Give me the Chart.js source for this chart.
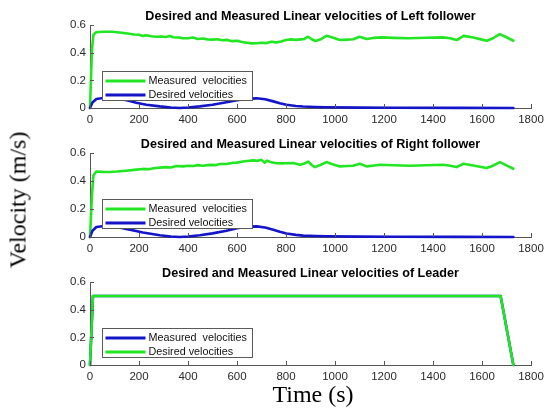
<!DOCTYPE html>
<html>
<head>
<meta charset="utf-8">
<script src="https://cdn.jsdelivr.net/npm/chart.js@4/dist/chart.umd.min.js"></script>
<style>
  html, body { margin: 0; padding: 0; background: #fff; }
  #wrap { position: relative; width: 546px; height: 410px; overflow: hidden; background: #fff; }
  canvas { position: absolute; left: 0; }
  .lbl { position: absolute; font-family: "Liberation Serif", "Times New Roman", serif; font-size: 24px; color: #000; white-space: nowrap; }
  #ylab { left: 18px; top: 200px; transform: translate(-50%, -50%) rotate(-90deg); }
  #xlab { left: 313px; top: 394px; transform: translate(-50%, -50%); }
</style>
</head>
<body>
<div id="wrap">
  <canvas id="c1" width="546" height="128" style="top:0px"></canvas>
  <canvas id="c2" width="546" height="129" style="top:128px"></canvas>
  <canvas id="c3" width="546" height="128" style="top:257px"></canvas>
  <div class="lbl" id="ylab">Velocity (m/s)</div>
  <div class="lbl" id="xlab">Time (s)</div>
</div>
<script>
// Time (s) / velocity (m/s) samples for each robot
const leftMeasured = [[0,0],[8,0.42],[14,0.53],[25,0.548],[50,0.552],[90,0.552],[130,0.545],[160,0.538],[180,0.532],[200,0.53],[215,0.522],[230,0.526],[250,0.52],[270,0.516],[290,0.518],[310,0.514],[325,0.521],[340,0.512],[360,0.51],[380,0.506],[400,0.505],[420,0.51],[440,0.5],[460,0.503],[480,0.497],[500,0.495],[520,0.498],[540,0.49],[560,0.493],[580,0.484],[600,0.487],[620,0.478],[640,0.473],[660,0.468],[680,0.469],[700,0.472],[720,0.47],[740,0.48],[760,0.475],[780,0.482],[800,0.492],[820,0.497],[840,0.493],[860,0.497],[875,0.5],[890,0.516],[905,0.498],[920,0.485],[945,0.5],[965,0.523],[990,0.51],[1020,0.492],[1050,0.495],[1075,0.498],[1100,0.516],[1130,0.5],[1160,0.508],[1190,0.511],[1240,0.508],[1300,0.505],[1370,0.509],[1440,0.511],[1470,0.505],[1497,0.492],[1525,0.522],[1565,0.51],[1600,0.495],[1620,0.487],[1645,0.505],[1672,0.535],[1700,0.512],[1728,0.487]];
const leftDesired = [[0,0],[10,0.04],[26,0.065],[53,0.072],[90,0.072],[120,0.066],[150,0.056],[189,0.038],[230,0.024],[285,0.012],[330,0.004],[366,0],[400,0.004],[448,0.012],[500,0.024],[557,0.042],[600,0.056],[639,0.066],[680,0.07],[715,0.063],[748,0.048],[775,0.035],[802,0.024],[840,0.015],[870,0.011],[920,0.007],[965,0.005],[1100,0.003],[1238,0.002],[1500,0.001],[1728,0]];

const rightMeasured = [[0,0],[8,0.3],[14,0.44],[26,0.469],[50,0.466],[80,0.465],[110,0.468],[148,0.474],[180,0.48],[216,0.487],[240,0.485],[260,0.492],[285,0.496],[310,0.5],[330,0.497],[353,0.508],[380,0.505],[400,0.51],[421,0.508],[440,0.514],[460,0.51],[489,0.516],[510,0.514],[530,0.522],[557,0.522],[580,0.53],[600,0.532],[625,0.54],[650,0.545],[666,0.548],[685,0.545],[700,0.552],[712,0.532],[722,0.546],[740,0.535],[761,0.528],[790,0.527],[829,0.529],[857,0.517],[875,0.525],[890,0.54],[905,0.515],[918,0.5],[940,0.515],[965,0.536],[990,0.52],[1020,0.505],[1050,0.508],[1074,0.51],[1101,0.524],[1129,0.505],[1160,0.512],[1183,0.517],[1240,0.513],[1306,0.51],[1370,0.513],[1442,0.517],[1470,0.51],[1496,0.5],[1524,0.524],[1565,0.512],[1619,0.493],[1645,0.51],[1673,0.536],[1700,0.512],[1728,0.488]];
const rightDesired = [[0,0],[10,0.045],[26,0.071],[67,0.081],[100,0.075],[148,0.058],[216,0.032],[285,0.012],[330,0.004],[366,0],[400,0.004],[448,0.012],[500,0.026],[557,0.045],[600,0.062],[639,0.073],[680,0.076],[715,0.068],[748,0.052],[775,0.037],[802,0.025],[840,0.015],[870,0.01],[920,0.007],[965,0.005],[1100,0.003],[1238,0.002],[1500,0.001],[1728,0]];

const leaderMeasured = [[0,0],[12,0.5],[1676,0.5],[1728,0]];
const leaderDesired  = [[0,0],[12,0.5],[1676,0.5],[1728,0]];

const xTicks = [0, 200, 400, 600, 800, 1000, 1200, 1400, 1600, 1800];
const yTicks = [0, 0.2, 0.4, 0.6];

const titles = [
  'Desired and Measured Linear velocities of Left follower',
  'Desired and Measured Linear velocities of Right follower',
  'Desired and Measured Linear velocities of Leader'
];
const labelMeasured = 'Measured  velocities';
const labelDesired = 'Desired velocities';

const GREEN = '#22e622';
const BLUE = '#1414c8';
const AXIS = '#555555';
const TEXT = '#2a2a2a';

const toPoints = arr => arr.map(([x, y]) => ({ x, y }));

// Inward tick marks on the left and bottom axes
const innerTicks = {
  id: 'innerTicks',
  afterDraw(chart) {
    const { ctx, chartArea: a, scales: { x, y } } = chart;
    ctx.save();
    ctx.strokeStyle = AXIS;
    ctx.lineWidth = 1;
    ctx.beginPath();
    x.ticks.forEach(t => {
      const px = Math.round(x.getPixelForValue(t.value)) + 0.5;
      ctx.moveTo(px, a.bottom);
      ctx.lineTo(px, a.bottom - 4);
    });
    y.ticks.forEach(t => {
      const py = Math.round(y.getPixelForValue(t.value)) + 0.5;
      ctx.moveTo(a.left, py);
      ctx.lineTo(a.left + 4, py);
    });
    ctx.stroke();
    ctx.restore();
  }
};

// Boxed legend in the lower-left of the plot area
const boxLegend = {
  id: 'boxLegend',
  afterDraw(chart, args, opts) {
    const { ctx, chartArea: a } = chart;
    const left = Math.round(a.left + 12) + 0.5;
    const top = Math.round(a.top + 46) + 0.5;
    const w = 150, h = 29;
    ctx.save();
    ctx.fillStyle = '#ffffff';
    ctx.fillRect(left, top, w, h);
    ctx.strokeStyle = '#5a5a5a';
    ctx.lineWidth = 1;
    ctx.strokeRect(left, top, w, h);
    ctx.font = '10.8px "Liberation Sans", Arial, sans-serif';
    ctx.textBaseline = 'middle';
    ctx.textAlign = 'left';
    (opts.order || []).forEach((di, i) => {
      const ds = chart.data.datasets[di];
      const ry = top + 9.5 + i * 14;
      ctx.strokeStyle = ds.borderColor;
      ctx.lineWidth = 3;
      ctx.beginPath();
      ctx.moveTo(left + 3, ry);
      ctx.lineTo(left + 43, ry);
      ctx.stroke();
      ctx.fillStyle = '#111';
      ctx.fillText(ds.label, left + 46, ry + 0.5);
    });
    ctx.restore();
  }
};

function makeChart(id, title, datasets, legendOrder) {
  return new Chart(document.getElementById(id), {
    type: 'line',
    data: { datasets },
    plugins: [innerTicks, boxLegend],
    options: {
      responsive: false,
      animation: false,
      devicePixelRatio: 1,
      layout: { padding: { left: 0, right: 15, top: 0, bottom: 0 } },
      elements: { point: { radius: 0 }, line: { tension: 0, borderJoinStyle: 'round', borderCapStyle: 'round' } },
      plugins: {
        legend: { display: false },
        tooltip: { enabled: false },
        title: {
          display: true,
          text: title,
          fullSize: false,
          color: '#000',
          font: { family: '"Liberation Sans", Arial, sans-serif', size: 12.6, weight: 'bold', lineHeight: 1.2 },
          padding: { top: 8.5, bottom: 1.5 }
        },
        boxLegend: { order: legendOrder }
      },
      scales: {
        x: {
          type: 'linear',
          min: 0, max: 1800,
          afterBuildTicks: s => { s.ticks = xTicks.map(v => ({ value: v })); },
          afterFit: s => { s.height = 20; s.paddingLeft = 0; s.paddingRight = 0; },
          grid: { display: true, drawOnChartArea: false, drawTicks: false },
          border: { display: true, color: AXIS, width: 1 },
          ticks: { color: TEXT, padding: 5, maxRotation: 0, autoSkip: false,
                   font: { family: '"Liberation Sans", Arial, sans-serif', size: 11.5 },
                   callback: v => String(v) }
        },
        y: {
          type: 'linear',
          min: 0, max: 0.6,
          afterBuildTicks: s => { s.ticks = yTicks.map(v => ({ value: v })); },
          afterFit: s => { s.width = 90; s.paddingTop = 0; s.paddingBottom = 0; },
          grid: { display: true, drawOnChartArea: false, drawTicks: false },
          border: { display: true, color: AXIS, width: 1 },
          ticks: { color: TEXT, padding: 4, autoSkip: false,
                   font: { family: '"Liberation Sans", Arial, sans-serif', size: 11.5 },
                   callback: v => String(Math.round(v * 10) / 10) }
        }
      }
    }
  });
}

const lineStyle = { borderWidth: 2.6, fill: false, clip: false, pointRadius: 0 };

makeChart('c1', titles[0], [
  { ...lineStyle, label: labelMeasured, data: toPoints(leftMeasured), borderColor: GREEN, order: 1 },
  { ...lineStyle, label: labelDesired, data: toPoints(leftDesired), borderColor: BLUE, order: 0 }
], [0, 1]);

makeChart('c2', titles[1], [
  { ...lineStyle, label: labelMeasured, data: toPoints(rightMeasured), borderColor: GREEN, order: 1 },
  { ...lineStyle, label: labelDesired, data: toPoints(rightDesired), borderColor: BLUE, order: 0 }
], [0, 1]);

makeChart('c3', titles[2], [
  { ...lineStyle, label: labelMeasured, data: toPoints(leaderMeasured), borderColor: BLUE, order: 1 },
  { ...lineStyle, label: labelDesired, data: toPoints(leaderDesired), borderColor: GREEN, order: 0 }
], [0, 1]);
</script>
</body>
</html>
